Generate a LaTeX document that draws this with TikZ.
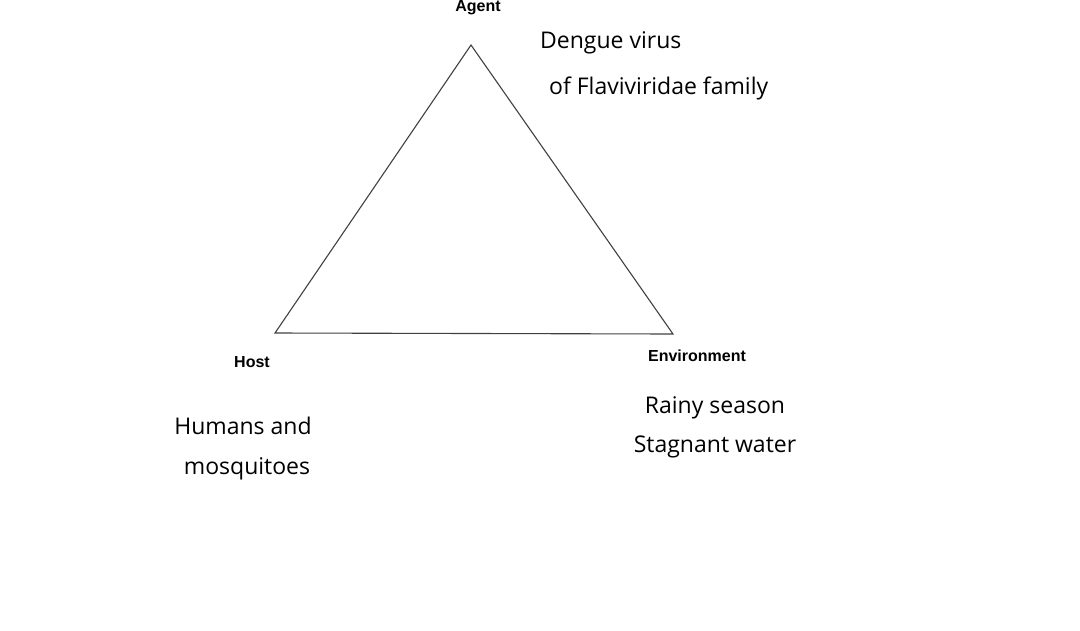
\documentclass[tikz,border=0pt]{standalone}
\usepackage{fontspec}
\setmainfont{Open Sans}
\newfontfamily\lab{Liberation Sans}
\begin{document}
\begin{tikzpicture}[x=1pt,y=-1pt,
  big/.style={font=\fontsize{23}{28}\selectfont,inner sep=0pt,align=center},
  tag/.style={font=\lab\bfseries\fontsize{16}{18}\selectfont,inner sep=0pt}]
\useasboundingbox (0,0) rectangle (1080,630);
\coordinate (A) at (471,45);
\coordinate (H) at (275,333);
\coordinate (E) at (673,334);
\draw[line width=1.1pt,black!75] (A) -- (H) -- (E) -- cycle;
\node[tag] (ta) at (478,8) {Agent};
\node[tag] (th) at (252,362) {Host};
\node[tag] (te) at (697,356) {Environment};
\node[big,anchor=west] (d1) at (540,43) {Dengue virus};
\node[big,anchor=west] (d2) at (549,88) {of Flaviviridae family};
\node[big] (h1) at (243,426) {Humans and};
\node[big] (h2) at (247,469) {mosquitoes};
\node[big] (e1) at (715,408) {Rainy season};
\node[big] (e2) at (715,447) {Stagnant water};
\end{tikzpicture}
\end{document}
